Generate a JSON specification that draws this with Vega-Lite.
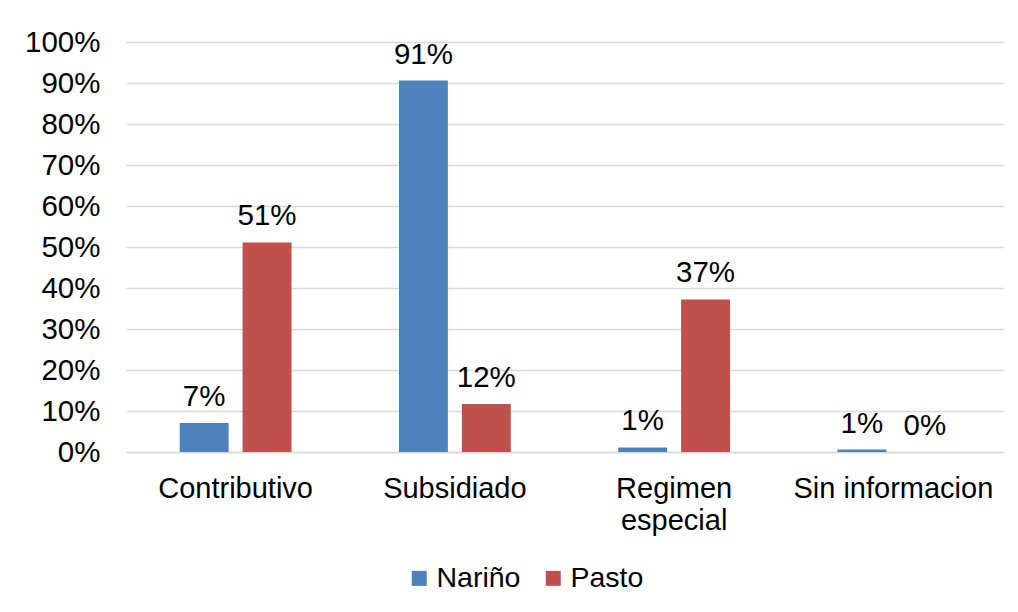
{
  "$schema": "https://vega.github.io/schema/vega-lite/v6.json",
  "width": 877,
  "height": 410,
  "autosize": {"type": "none"},
  "padding": {"left": 126, "top": 42, "right": 15, "bottom": 160},
  "background": "white",
  "config": {
    "font": "Liberation Sans",
    "view": {"stroke": null}
  },
  "data": {
    "values": [
      {"categoria": "Contributivo", "serie": "Nariño", "valor": 0.071},
      {"categoria": "Contributivo", "serie": "Pasto", "valor": 0.511},
      {"categoria": "Subsidiado", "serie": "Nariño", "valor": 0.906},
      {"categoria": "Subsidiado", "serie": "Pasto", "valor": 0.117},
      {"categoria": "Regimen especial", "serie": "Nariño", "valor": 0.011},
      {"categoria": "Regimen especial", "serie": "Pasto", "valor": 0.372},
      {"categoria": "Sin informacion", "serie": "Nariño", "valor": 0.006},
      {"categoria": "Sin informacion", "serie": "Pasto", "valor": 0.0}
    ]
  },
  "encoding": {
    "x": {
      "field": "categoria",
      "type": "nominal",
      "sort": ["Contributivo", "Subsidiado", "Regimen especial", "Sin informacion"],
      "scale": {"paddingInner": 0.49, "paddingOuter": 0.245},
      "axis": {
        "title": null,
        "labelAngle": 0,
        "labelFontSize": 29,
        "labelColor": "black",
        "labelPadding": 22,
        "labelLimit": 0,
        "labelLineHeight": 32,
        "labelExpr": "datum.value == 'Regimen especial' ? ['Regimen', 'especial'] : datum.value",
        "ticks": false,
        "domainColor": "#d9d9d9",
        "domainWidth": 1.5
      }
    },
    "xOffset": {
      "field": "serie",
      "type": "nominal",
      "scale": {"paddingInner": 0.222, "paddingOuter": 0}
    },
    "y": {
      "field": "valor",
      "type": "quantitative",
      "scale": {"domain": [0, 1], "nice": false},
      "axis": {
        "title": null,
        "values": [0, 0.1, 0.2, 0.3, 0.4, 0.5, 0.6, 0.7, 0.8, 0.9, 1],
        "format": ".0%",
        "labelFontSize": 29.5,
        "labelColor": "black",
        "labelPadding": 26,
        "ticks": false,
        "domain": false,
        "gridColor": "#d9d9d9",
        "gridWidth": 1.5
      }
    }
  },
  "layer": [
    {
      "mark": {"type": "bar"},
      "encoding": {
        "color": {
          "field": "serie",
          "type": "nominal",
          "scale": {"domain": ["Nariño", "Pasto"], "range": ["#4f81bd", "#c0504d"]},
          "legend": {
            "title": null,
            "orient": "none",
            "direction": "horizontal",
            "legendX": 279,
            "legendY": 522,
            "symbolType": "square",
            "symbolSize": 225,
            "symbolStrokeWidth": 0,
            "symbolOpacity": 1,
            "labelFontSize": 28.5,
            "labelColor": "black",
            "labelOffset": 3,
            "columnPadding": 18
          }
        }
      }
    },
    {
      "mark": {"type": "text", "baseline": "alphabetic", "dy": -17, "fontSize": 29.5, "color": "black"},
      "encoding": {
        "text": {"field": "valor", "type": "quantitative", "format": ".0%"}
      }
    }
  ]
}
